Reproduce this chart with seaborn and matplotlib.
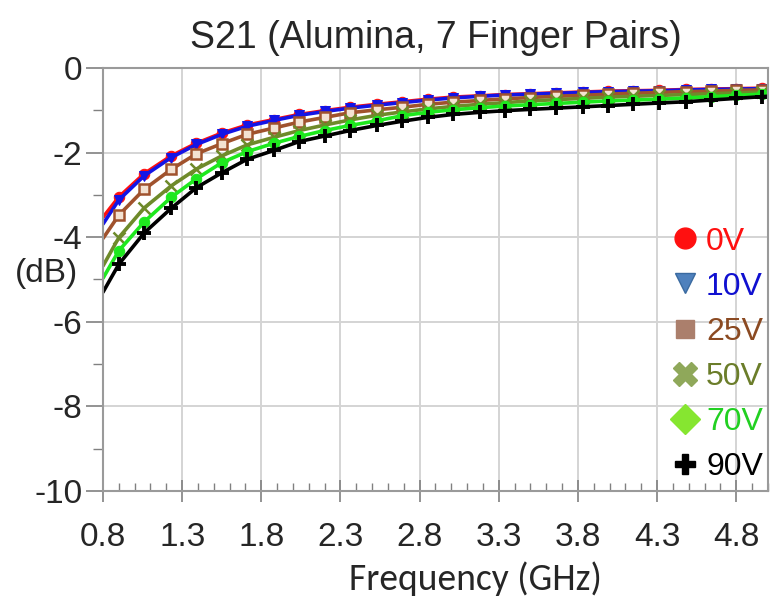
import matplotlib
matplotlib.use("Agg")
import matplotlib.pyplot as plt
from matplotlib.lines import Line2D
from matplotlib.ticker import MultipleLocator, FixedLocator
import seaborn as sns
import pandas as pd

# Frequency points (GHz)
freq = [0.80, 0.90, 1.06, 1.23, 1.39, 1.55, 1.71, 1.88, 2.04, 2.20, 2.36, 2.53,
        2.69, 2.85, 3.01, 3.18, 3.34, 3.50, 3.66, 3.83, 3.99, 4.15, 4.31, 4.48,
        4.64, 4.80, 4.96, 5.00]

# S21 (dB) per bias voltage
s21_0v = [-3.53, -3.05, -2.50, -2.08, -1.78, -1.54, -1.35, -1.22, -1.10, -1.01,
          -0.93, -0.86, -0.80, -0.74, -0.69, -0.66, -0.63, -0.61, -0.59, -0.57,
          -0.55, -0.54, -0.53, -0.51, -0.50, -0.49, -0.48, -0.48]
s21_10v = [-3.69, -3.12, -2.55, -2.12, -1.81, -1.57, -1.38, -1.24, -1.12, -1.03,
           -0.95, -0.88, -0.82, -0.76, -0.71, -0.67, -0.64, -0.62, -0.60, -0.58,
           -0.56, -0.55, -0.54, -0.52, -0.51, -0.50, -0.49, -0.49]
s21_25v = [-4.03, -3.48, -2.87, -2.40, -2.03, -1.79, -1.57, -1.42, -1.28, -1.17,
           -1.06, -0.99, -0.93, -0.86, -0.81, -0.77, -0.73, -0.70, -0.67, -0.65,
           -0.62, -0.60, -0.58, -0.56, -0.55, -0.53, -0.52, -0.52]
s21_50v = [-4.68, -4.01, -3.31, -2.79, -2.39, -2.08, -1.82, -1.64, -1.48, -1.35,
           -1.23, -1.12, -1.04, -0.97, -0.91, -0.86, -0.82, -0.78, -0.75, -0.72,
           -0.69, -0.67, -0.65, -0.63, -0.61, -0.59, -0.57, -0.57]
s21_70v = [-4.97, -4.32, -3.64, -3.06, -2.62, -2.24, -1.98, -1.78, -1.62, -1.48,
           -1.36, -1.25, -1.13, -1.05, -0.99, -0.94, -0.90, -0.87, -0.84, -0.81,
           -0.78, -0.76, -0.74, -0.71, -0.68, -0.65, -0.62, -0.62]
s21_90v = [-5.30, -4.64, -3.90, -3.32, -2.83, -2.48, -2.16, -1.95, -1.74, -1.61,
           -1.48, -1.36, -1.26, -1.17, -1.10, -1.05, -1.01, -0.98, -0.95, -0.92,
           -0.89, -0.86, -0.83, -0.80, -0.76, -0.72, -0.68, -0.67]

labels = ["0V", "10V", "25V", "50V", "70V", "90V"]
series = [s21_0v, s21_10v, s21_25v, s21_50v, s21_70v, s21_90v]

x_ticks = [0.8, 1.3, 1.8, 2.3, 2.8, 3.3, 3.8, 4.3, 4.8]
y_ticks = [0, -2, -4, -6, -8, -10]

line_colors = ["#ff1010", "#1414e6", "#a0522d", "#6e8a2a", "#1ee81e", "#000000"]
text_colors = ["#ff1010", "#1010d0", "#8b4a22", "#6b7d2a", "#22d022", "#000000"]

df = pd.concat(
    [pd.DataFrame({"freq": freq, "s21": vals, "bias": lab})
     for lab, vals in zip(labels, series)],
    ignore_index=True,
)

sns.set_theme(style="white")
plt.rcParams["font.family"] = ["Liberation Sans", "DejaVu Sans"]

fig = plt.figure(figsize=(7.71, 6.01), dpi=100)
ax = fig.add_axes([0.1336, 0.183, 0.8624, 0.704])

line_styles = {
    "0V": dict(marker="o", ms=7.5, mfc="#ff1010", mec="#ff1010"),
    "10V": dict(marker="v", ms=7.5, mfc="#1414e6", mec="#1414e6"),
    "25V": dict(marker="s", ms=7, mfc="#f3e2d2", mec="#a0522d", mew=1.8),
    "50V": dict(marker="x", ms=9, mec="#6e8a2a", mew=1.8),
    "70V": dict(marker="o", ms=7.5, mfc="#1ee81e", mec="#1ee81e"),
    "90V": dict(marker="+", ms=10, mec="#000000", mew=2.8),
}

n = len(freq)
for lab, col in zip(labels, line_colors):
    sub = df[df["bias"] == lab]
    sns.lineplot(data=sub, x="freq", y="s21", color=col, lw=2.6, ax=ax,
                 markevery=list(range(1, n - 1)), **line_styles[lab])

ax.set_xlim(0.8, 5.0)
ax.set_ylim(-10, 0)
ax.xaxis.set_major_locator(FixedLocator(x_ticks))
ax.xaxis.set_minor_locator(MultipleLocator(0.1))
ax.yaxis.set_major_locator(FixedLocator(y_ticks))
ax.yaxis.set_minor_locator(FixedLocator([-1, -3, -5, -7, -9]))
ax.set_xticklabels([f"{v:.1f}" for v in x_ticks])
ax.set_yticklabels([str(v) for v in y_ticks])

ax.grid(True, which="major", color="#d4d4d4", lw=1.4)
for sp in ax.spines.values():
    sp.set_color("#9a9a9a")
    sp.set_linewidth(1.5)

ax.tick_params(axis="x", which="major", direction="inout", length=16, width=1.2,
               color="#808080", labelsize=24, pad=14, bottom=True)
ax.tick_params(axis="x", which="minor", direction="in", length=6, width=1.0,
               color="#808080", bottom=True)
ax.tick_params(axis="y", which="major", direction="out", length=12, width=1.2,
               color="#808080", labelsize=24, pad=3, left=True)
ax.tick_params(axis="y", which="minor", direction="out", length=7, width=1.0,
               color="#808080", left=True)

ax.set_xlabel("Frequency (GHz)", fontsize=27, family=["Carlito", "Lato", "DejaVu Sans"],
              labelpad=6)
ax.xaxis.label.set_x(0.56)
ax.set_ylabel("")
ax.text(-0.085, 0.515, "(dB)", transform=ax.transAxes, fontsize=24,
        ha="center", va="center")
ax.set_title("S21 (Alumina, 7 Finger Pairs)", fontsize=27, pad=14)

legend_markers = [
    dict(marker="o", ms=15, mfc="#ff1010", mec="#ff1010"),
    dict(marker="v", ms=14, mfc="#4f81bd", mec="#3a6aa0"),
    dict(marker="s", ms=13, mfc="#ab7f6c", mec="#ab7f6c"),
    dict(marker="X", ms=17, mfc="#8fa85a", mec="#8fa85a"),
    dict(marker="D", ms=15, mfc="#86e630", mec="#86e630"),
    dict(marker="P", ms=15, mfc="#000000", mec="#000000"),
]
handles = [Line2D([], [], ls="none", **m) for m in legend_markers]
leg = ax.legend(handles, labels, loc="upper right", bbox_to_anchor=(1.012, 0.655),
                frameon=False, fontsize=23, handlelength=0.9, handletextpad=0.2,
                labelspacing=0.47, borderaxespad=0)
for t, c in zip(leg.get_texts(), text_colors):
    t.set_color(c)

fig.savefig("out.png", dpi=100)
